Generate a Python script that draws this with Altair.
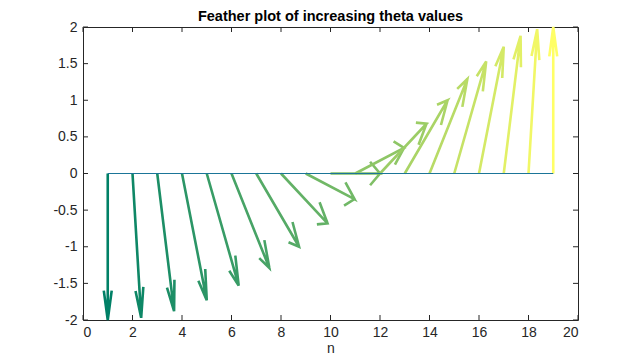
import altair as alt
import pandas as pd

# feather data
N = list(range(1, 20))
U = [0.0, 0.35, 0.68, 1.0, 1.29, 1.53, 1.73, 1.88, 1.97, 2.0, 1.97, 1.88, 1.73, 1.53, 1.29, 1.0, 0.68, 0.35, 0.0]
V = [-2.0, -1.97, -1.88, -1.73, -1.53, -1.29, -1.0, -0.68, -0.35, 0.0, 0.35, 0.68, 1.0, 1.29, 1.53, 1.73, 1.88, 1.97, 2.0]
COLORS = ["#008066", "#0E8766", "#1C8E66", "#2B9566", "#389C66", "#47A366", "#55AA66", "#63B166",
          "#71B866", "#80BF66", "#8EC666", "#9CCD66", "#AAD466", "#B8DB66", "#C6E266", "#D4E966",
          "#E2F066", "#F1F766", "#FFFF66"]
X_TICKS = list(range(0, 21, 2))
Y_TICKS = [-2, -1.5, -1, -0.5, 0, 0.5, 1, 1.5, 2]

W, H = 495, 293
FONT = "Liberation Sans"
AX = "#262626"
FS = 14

rows = []
for i, (n, u, v) in enumerate(zip(N, U, V)):
    pts = [(0, 0), (u, v), (0.8 * u - 0.08 * v, 0.8 * v + 0.08 * u), (u, v),
           (0.8 * u + 0.08 * v, 0.8 * v - 0.08 * u)]
    for j, (dx, dy) in enumerate(pts):
        rows.append({"id": i, "o": j, "x": n + dx, "y": dy})
df = pd.DataFrame(rows)

xscale = alt.Scale(domain=[0, 20], nice=False, zero=False)
yscale = alt.Scale(domain=[-2, 2], nice=False, zero=False)

xaxis = alt.Axis(values=X_TICKS, ticks=False, grid=False, domain=False, labelOverlap=False,
                 labelExpr="'' + datum.value", labelFont=FONT, labelFontSize=FS,
                 labelColor=AX, labelPadding=5, titleFont=FONT, titleFontSize=FS,
                 titleFontWeight="normal", titleColor=AX, titlePadding=2)
yaxis = alt.Axis(values=Y_TICKS, ticks=False, grid=False, domain=False, labelOverlap=False,
                 labelExpr="'' + datum.value", labelFont=FONT, labelFontSize=FS,
                 labelColor=AX, labelPadding=6)

arrows = alt.Chart(df).mark_line(strokeWidth=2.6, strokeCap="butt").encode(
    x=alt.X("x:Q", scale=xscale, title="n", axis=xaxis),
    y=alt.Y("y:Q", scale=yscale, title=None, axis=yaxis),
    color=alt.Color("id:N", scale=alt.Scale(domain=list(range(19)), range=COLORS), legend=None),
    detail="id:N",
    order="o:Q",
)

base_df = pd.DataFrame({"x1": [N[0]], "x2": [N[-1]], "y": [0]})
baseline = alt.Chart(base_df).mark_rule(color="#1B7598", strokeWidth=1.2).encode(
    x=alt.X("x1:Q", scale=xscale, title="n", axis=xaxis), x2="x2:Q",
    y=alt.Y("y:Q", scale=yscale, title=None, axis=yaxis)
)

xt = pd.DataFrame({"t": X_TICKS})
yt = pd.DataFrame({"t": Y_TICKS})
xtick_b = alt.Chart(xt).mark_rule(color=AX, strokeWidth=1).encode(
    x=alt.X("t:Q", scale=xscale, title="n", axis=xaxis), y=alt.value(H), y2=alt.value(H - 5))
xtick_t = alt.Chart(xt).mark_rule(color=AX, strokeWidth=1).encode(
    x=alt.X("t:Q", scale=xscale, title="n", axis=xaxis), y=alt.value(0), y2=alt.value(5))
ytick_l = alt.Chart(yt).mark_rule(color=AX, strokeWidth=1).encode(
    y=alt.Y("t:Q", scale=yscale, title=None, axis=yaxis), x=alt.value(0), x2=alt.value(5))
ytick_r = alt.Chart(yt).mark_rule(color=AX, strokeWidth=1).encode(
    y=alt.Y("t:Q", scale=yscale, title=None, axis=yaxis), x=alt.value(W), x2=alt.value(W - 5))

chart = alt.layer(arrows, baseline, xtick_b, xtick_t, ytick_l, ytick_r).properties(
    width=W, height=H,
    title=alt.TitleParams("Feather plot of increasing theta values", font=FONT, fontSize=14.5,
                          fontWeight="bold", color="black", anchor="middle", offset=-4, frame="group"),
    autosize=alt.AutoSizeParams(type="none"),
    padding={"left": 75, "top": 19, "right": 54, "bottom": 37},
    background="white",
).configure_view(stroke=AX, strokeWidth=1)

chart.save("out.html", embed_options={"renderer": "svg", "actions": False})
